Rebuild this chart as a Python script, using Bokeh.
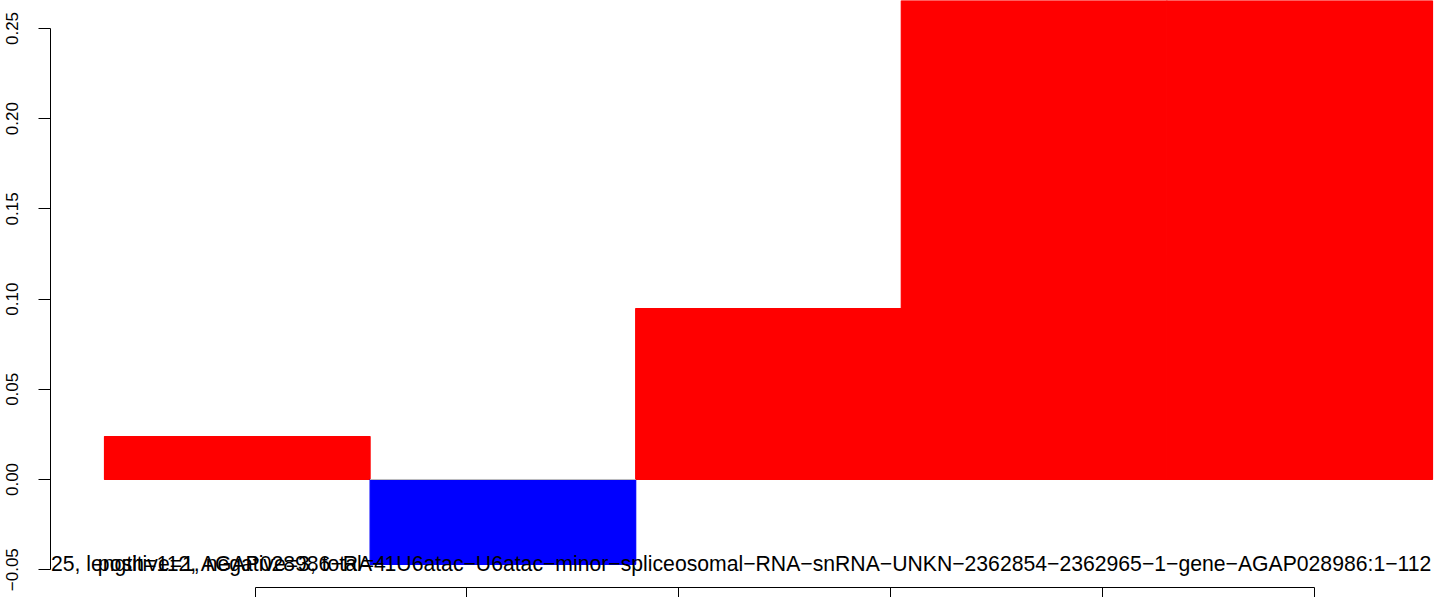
from bokeh.plotting import figure
from bokeh.models import Range1d, FixedTicker, ColumnDataSource
from bokeh.core.properties import value
from bokeh.embed import file_html
from bokeh.resources import INLINE

# ---- data ----
bar_positions = [0.5, 1.5, 2.5, 3.5, 4.5]
bar_scores = [0.0238, -0.047, 0.0948, 0.31, 0.34]
y_ticks = [-0.05, 0.0, 0.05, 0.10, 0.15, 0.20, 0.25]
y_tick_labels = ["\u22120.05", "0.00", "0.05", "0.10", "0.15", "0.20", "0.25"]
x_ticks = [0.5685, 1.3630, 2.1612, 2.9593, 3.7575, 4.5557]
label_a = ("25, length=112, AGAP028986\u2212RA\u22121U6atac\u2212U6atac\u2212minor\u2212spliceosomal"
           "\u2212RNA\u2212snRNA\u2212UNKN\u22122362854\u22122362965\u22121\u2212gene\u2212AGAP028986:1\u2212112")
label_b = "positive=1, negative=3, total=4"

FONT = "Liberation Sans"

bar_colors = ["#FF0000" if v >= 0 else "#0000FF" for v in bar_scores]
src = ColumnDataSource(dict(x=bar_positions, top=bar_scores, color=bar_colors))

p = figure(width=1444, height=597, output_backend="svg", toolbar_location=None,
           x_range=Range1d(-0.2033, 5.0452), y_range=Range1d(-0.05987, 0.26552),
           min_border_left=50, min_border_right=0, min_border_top=0, min_border_bottom=0)
p.outline_line_color = None
p.xgrid.visible = False
p.ygrid.visible = False
p.background_fill_color = "white"
p.border_fill_color = "white"

p.vbar(x="x", top="top", bottom=0, width=1.0, fill_color="color", line_color="color",
       line_width=1.2, source=src)

neg_x = [x for x, v in zip(bar_positions, bar_scores) if v < 0]
p.segment(x0=[x - 0.5 for x in neg_x], x1=[x + 0.5 for x in neg_x],
          y0=[0] * len(neg_x), y1=[0] * len(neg_x), line_color="#BEBEBE", line_width=1)

p.text(x=[5.0], y=[-0.0466], text=[label_a], text_align="right", text_baseline="alphabetic",
       text_font=value(FONT), text_font_size="21.2px", text_color="black")
p.text(x=[-0.025], y=[-0.0466], text=[label_b], text_align="left", text_baseline="alphabetic",
       text_font=value(FONT), text_font_size="21.2px", text_color="black")

# y axis
ya = p.yaxis[0]
ya.ticker = FixedTicker(ticks=y_ticks)
ya.major_label_overrides = {t: l for t, l in zip(y_ticks, y_tick_labels)}
ya.bounds = (y_ticks[0], y_ticks[-1])
ya.major_label_orientation = "vertical"
ya.major_tick_out = 12
ya.major_tick_in = 0
ya.minor_tick_out = 0
ya.minor_tick_in = 0
ya.major_label_standoff = 20
ya.major_label_text_font = FONT
ya.major_label_text_font_size = "17px"
ya.major_label_text_color = "black"
ya.axis_line_color = "black"
ya.major_tick_line_color = "black"

# x axis (its labels lie below the visible window in the reference)
xa = p.xaxis[0]
xa.ticker = FixedTicker(ticks=x_ticks)
xa.major_label_overrides = {t: "" for t in x_ticks}
xa.bounds = (x_ticks[0], x_ticks[-1])
xa.major_tick_out = 10
xa.major_tick_in = 0
xa.minor_tick_out = 0
xa.minor_tick_in = 0
xa.major_label_standoff = 0
xa.major_label_text_font = FONT
xa.major_label_text_font_size = "17px"
xa.axis_line_color = "black"
xa.major_tick_line_color = "black"

open("out.html", "w").write(file_html(p, INLINE))
